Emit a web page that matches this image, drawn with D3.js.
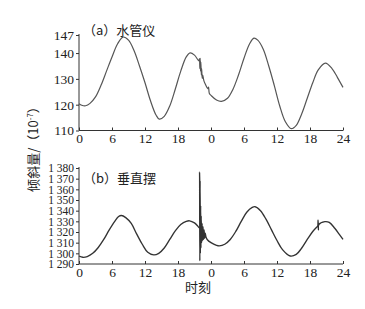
<!DOCTYPE html>
<html>
<head>
<meta charset="utf-8">
<script src="https://cdn.jsdelivr.net/npm/d3@7"></script>
<style>
  body { margin: 0; background: #fff; }
  svg text { font-family: "Liberation Serif", "DejaVu Serif", serif; fill: #222; }
  .cjk { font-family: "Noto Sans CJK SC", sans-serif; }
</style>
</head>
<body>
<svg id="chart" width="365" height="309"></svg>
<script>
// hours over two days, axis labels repeat every 24h
var hourTicks = [0, 6, 12, 18, 24, 30, 36, 42, 48];
var hourLabels = ['0', '6', '12', '18', '0', '6', '12', '18', '24'];

// (a) 水管仪  [hour, value]
var waterTube = [
  [0, 120.4], [0.5, 119.8], [1.2, 119.6], [2, 120.5], [3, 123], [4, 127.5], [5, 133],
  [6, 138.5], [7, 143.5], [8, 146.2], [9, 145], [10, 141], [11, 135], [12, 128.5],
  [13, 121.5], [14, 116], [14.6, 114.4], [15.5, 115.5], [16.5, 119.5], [17.5, 126],
  [18.5, 133], [19.5, 138.5], [20.2, 140.1], [21, 139.2], [21.8, 137],
  [21.9, 137.8], [21.97, 134], [22.03, 138], [22.1, 133], [22.16, 136.5], [22.24, 131.5],
  [22.3, 134], [22.4, 130.2], [22.5, 131.5], [22.7, 129.3], [23, 127.8], [23.4, 126.2],
  [23.55, 126.8], [23.7, 124.3], [24, 123.6], [25, 121.8], [25.9, 121.3], [27, 122.5],
  [28, 126], [29, 131.5], [30, 138], [31, 143.5], [31.8, 145.8], [32.5, 145],
  [33.5, 141.5], [34.5, 135], [35.5, 127.5], [36.5, 119.5], [37.5, 113.5], [38.6, 110.7],
  [39.5, 112], [40.5, 116.5], [41.5, 122.5], [42.5, 128.5], [43.5, 133.5], [44.8, 136.1],
  [46, 134], [47, 130.5], [48, 126.7]
];
var waterTicks = [110, 120, 130, 140, 147];

// (b) 垂直摆  [hour, value]
var pendulum = [
  [0, 1297.5], [0.7, 1296.3], [1.5, 1297], [2.5, 1300], [3.5, 1305.5], [4.5, 1313],
  [5.5, 1322], [6.5, 1330], [7.2, 1334.5], [7.7, 1335.5], [8.5, 1333.5], [9.5, 1328],
  [10.5, 1318], [11.5, 1308.5], [12.5, 1301], [13.6, 1298.5], [14.5, 1300], [15.5, 1305],
  [16.5, 1313], [17.5, 1321], [18.5, 1327], [19.5, 1330], [20.1, 1330.5], [21, 1328.5],
  [21.6, 1325.5], [21.85, 1324], [21.92, 1376], [21.97, 1293], [22.02, 1368], [22.07, 1300],
  [22.12, 1345], [22.17, 1305], [22.22, 1335], [22.3, 1310], [22.38, 1328], [22.46, 1312],
  [22.55, 1325], [22.65, 1313], [22.75, 1322], [22.85, 1314], [22.95, 1319], [23.1, 1315],
  [23.3, 1313], [24, 1310], [25, 1307.5], [25.5, 1307], [26.5, 1308.5], [27.5, 1313],
  [28.5, 1320.5], [29.5, 1330], [30.5, 1338.5], [31.5, 1343], [32, 1343.7], [33, 1340],
  [34, 1332], [35, 1322], [36, 1312], [37, 1303.5], [38.4, 1297.5], [39.5, 1299],
  [40.5, 1305], [41.5, 1313], [42.5, 1320.5], [43.3, 1325], [43.4, 1325.5], [43.47, 1331],
  [43.53, 1322], [43.6, 1327], [44.7, 1329.7], [45.5, 1329], [46.5, 1323.5], [47.3, 1318],
  [48, 1313]
];
var pendulumTicks = [1290, 1300, 1310, 1320, 1330, 1340, 1350, 1360, 1370, 1380];

var svg = d3.select('#chart');
var x = d3.scaleLinear().domain([0, 48]).range([79, 343]);

var panels = [
  { data: waterTube, ticks: waterTicks, domain: [110, 147], range: [130.5, 35],
    title: '（a）水管仪', titleY: 35, color: '#555', width: 1.2, tickFont: '13.5px',
    fmt: function(d) { return d; } },
  { data: pendulum, ticks: pendulumTicks, domain: [1290, 1380], range: [264, 168],
    title: '（b）垂直摆', titleY: 183, color: '#333', width: 1.35, tickFont: '11.5px',
    fmt: function(d) { return String(d).replace(/^(\d)/, '$1 '); } }
];

panels.forEach(function(p) {
  var y = d3.scaleLinear().domain(p.domain).range(p.range);
  var g = svg.append('g');

  var yAxis = d3.axisLeft(y).tickValues(p.ticks).tickSize(3).tickFormat(p.fmt);
  var ya = g.append('g').attr('transform', 'translate(79,0)').call(yAxis);
  ya.select('.domain').attr('stroke', '#333').attr('d', 'M0,' + (p.range[1] - 1) + 'V' + p.range[0]);
  ya.selectAll('line').attr('stroke', '#333');
  ya.selectAll('text').attr('font-size', p.tickFont)
    .attr('x', -5).attr('fill', '#222')
    .style('font-family', '"Liberation Serif", serif');

  var xAxis = d3.axisBottom(x).tickValues(hourTicks).tickSize(-3)
    .tickFormat(function(d, i) { return hourLabels[i]; });
  var xa = g.append('g').attr('transform', 'translate(0,' + p.range[0] + ')').call(xAxis);
  xa.select('.domain').attr('stroke', '#333').attr('d', 'M79,0H343');
  xa.selectAll('line').attr('stroke', '#333');
  xa.selectAll('text').attr('font-size', '13.5px').attr('y', 3).attr('fill', '#222')
    .style('font-family', '"Liberation Serif", serif');

  var line = d3.line()
    .x(function(d) { return x(d[0]); })
    .y(function(d) { return y(d[1]); })
    .curve(d3.curveCatmullRom.alpha(0.5));

  g.append('path').datum(p.data)
    .attr('d', line)
    .attr('fill', 'none')
    .attr('stroke', p.color)
    .attr('stroke-width', p.width)
    .attr('stroke-linejoin', 'round');

  g.append('text').attr('class', 'cjk')
    .attr('x', 83).attr('y', p.titleY)
    .attr('font-size', '13px').attr('fill', '#333')
    .text(p.title);
});

// shared y label
var yl = svg.append('text').attr('class', 'cjk')
  .attr('transform', 'translate(38,146) rotate(-90)')
  .attr('text-anchor', 'middle')
  .attr('font-size', '13px').attr('fill', '#333');
yl.append('tspan').text('倾斜量/（10');
yl.append('tspan').attr('font-size', '8px').attr('dy', -5).text('-7');
yl.append('tspan').attr('dy', 5).text('）');

svg.append('text').attr('class', 'cjk')
  .attr('x', 198).attr('y', 292)
  .attr('text-anchor', 'middle')
  .attr('font-size', '13px').attr('fill', '#333')
  .text('时刻');
</script>
</body>
</html>
